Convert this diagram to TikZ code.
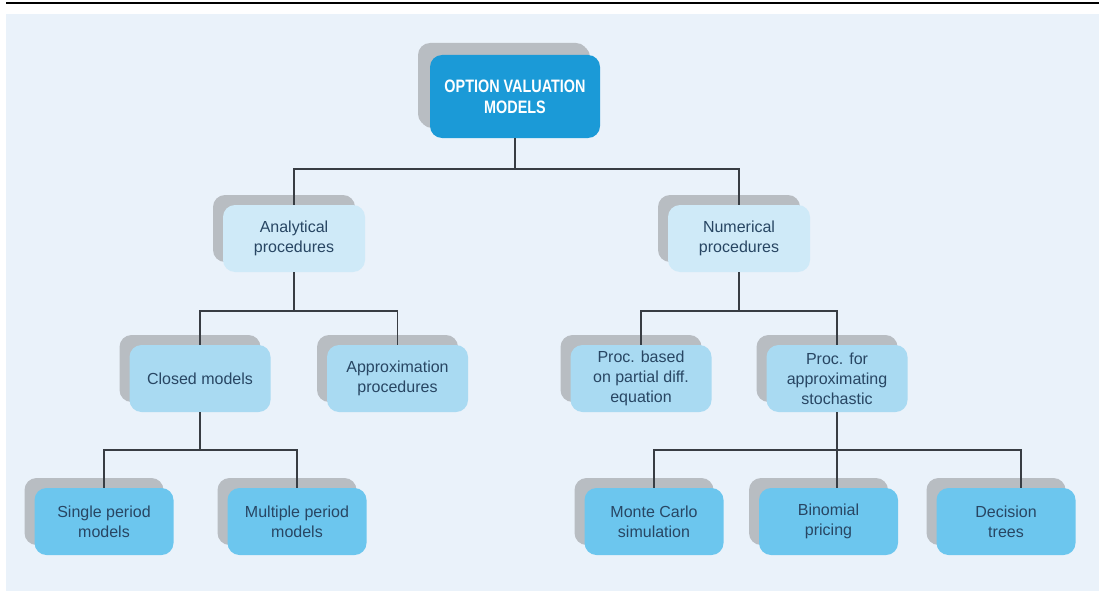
\documentclass[tikz,border=0pt]{standalone}
\usepackage{fontspec}
\setmainfont{Liberation Sans}
\newfontfamily\titlefont{Liberation Sans}[FakeStretch=0.8]
\usetikzlibrary{shadows,calc}
\definecolor{panel}{HTML}{EAF2FA}
\definecolor{topblue}{HTML}{1B9AD7}
\definecolor{lvtwo}{HTML}{CFEAF8}
\definecolor{lvthree}{HTML}{A9DAF2}
\definecolor{lvfour}{HTML}{6CC6EE}
\definecolor{shadowgray}{HTML}{B8BDC2}
\definecolor{txt}{HTML}{284663}
\definecolor{linec}{HTML}{383D43}
\tikzset{
  box/.style={rounded corners=12pt, inner sep=2pt, align=center,
    text=txt, font=\fontsize{16}{20}\selectfont,
    general shadow={shadow xshift=-10pt, shadow yshift=10pt, fill=shadowgray}},
  topbox/.style={box, fill=topblue, text=white, minimum width=170pt, minimum height=83pt,
    font=\titlefont\bfseries\fontsize{18}{21}\selectfont,
    general shadow={shadow xshift=-12pt, shadow yshift=12pt, fill=shadowgray}},
  boxtwo/.style={box, fill=lvtwo, minimum width=142pt, minimum height=67pt},
  boxthree/.style={box, fill=lvthree, minimum width=141pt, minimum height=67pt},
  boxfour/.style={box, fill=lvfour, minimum width=139pt, minimum height=67pt},
  conn/.style={draw=linec, line width=1.5pt}
}
\begin{document}
\begin{tikzpicture}[x=1pt,y=-1pt]
\useasboundingbox (0,0) rectangle (1099,591);
\fill[panel] (6,14) rectangle (1099,591);
\draw[line width=2pt, black] (6,3.5) -- (1099,3.5);

\node[topbox] (top) at (515,96.5) {OPTION VALUATION\\MODELS};

\node[boxtwo] (ana) at (294,238.5) {Analytical\\procedures};
\node[boxtwo] (num) at (739,238.5) {Numerical\\procedures};

\node[boxthree] (closed) at (200,378.5) {Closed models};
\node[boxthree] (approx) at (397.5,378.5) {Approximation\\procedures};
\node[boxthree] (pb) at (641,378.5) {Proc. based\\on partial diff.\\equation};
\node[boxthree] (pf) at (837,378.5) {Proc. for\\approximating\\stochastic};

\node[boxfour] (single) at (104,521.5) {Single period\\models};
\node[boxfour] (multi) at (297,521.5) {Multiple period\\models};
\node[boxfour] (mc) at (654,521.5) {Monte Carlo\\simulation};
\node[boxfour] (bin) at (828.5,521.5) {Binomial\\pricing};
\node[boxfour] (dt) at (1006,521.5) {Decision\\trees};

% connectors
\draw[conn] (top.south) -- ++(0,31);
\draw[conn] (ana.north) -- ++(0,-36) -| (num.north);

\draw[conn] (ana.south) -- ++(0,39);
\draw[conn] (closed.north) -- ++(0,-34) -| (approx.north);

\draw[conn] (num.south) -- ++(0,39);
\draw[conn] (pb.north) -- ++(0,-34) -| (pf.north);

\draw[conn] (closed.south) -- ++(0,38);
\draw[conn] (single.north) -- ++(0,-38) -| (multi.north);

\draw[conn] (pf.south) -- (pf.south |- bin.north);
\draw[conn] (mc.north) -- ++(0,-38) -| ($(dt.north)+(15,0)$);
\end{tikzpicture}
\end{document}
